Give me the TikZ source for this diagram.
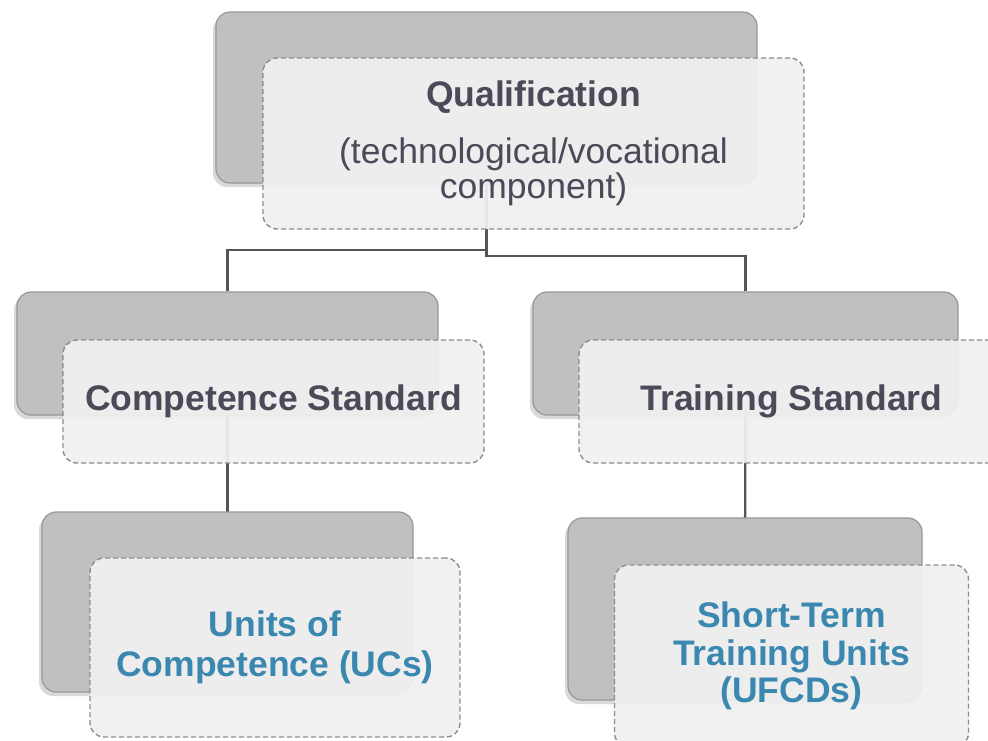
\documentclass[tikz,border=0pt]{standalone}
\usepackage{fontspec}
\setmainfont{Liberation Sans}
\usetikzlibrary{shadows,backgrounds}
\definecolor{boxgrey}{HTML}{C0C0C0}
\definecolor{boxedge}{HTML}{979797}
\definecolor{panel}{HTML}{F0F0F0}
\definecolor{dashgrey}{HTML}{8C8C8C}
\definecolor{inkdark}{HTML}{4A4A58}
\definecolor{inkblue}{HTML}{3A87AF}
\definecolor{wire}{HTML}{555555}

\begin{document}
\begin{tikzpicture}
    [x=0.5pt,y=-0.5pt,
      back/.style={rectangle, rounded corners=7pt, draw=boxedge, line width=0.6pt, fill=boxgrey,
          drop shadow={shadow xshift=-1.5pt, shadow yshift=-2pt, opacity=0.3}},
      front/.style={rectangle, rounded corners=7pt, draw=dashgrey, dash pattern=on 2.5pt off 1.5pt,
          line width=0.7pt, fill=panel, fill opacity=0.94, text opacity=1, text=inkdark, align=center,
          font=\fontsize{17.75}{20}\selectfont\bfseries},
      bluetext/.style={text=inkblue},
      wirestyle/.style={draw=wire, line width=1.2pt},
    ]
    \useasboundingbox (0,0) rectangle (988,740);
    \clip (0,0) rectangle (988,740);

    \node [back, minimum width=270.5pt, minimum height=85.5pt] (qualB) at (486.5,97.5) {};
    \node [front, minimum width=270.5pt, minimum height=85.5pt] (qualF) at (533.5,143.5)
      {Qualification\\[8.5pt]\mdseries(technological/vocational\\[-2.5pt]\mdseries component)};

    \node [back, minimum width=210.5pt, minimum height=61.5pt] (compB) at (227.5,353.5) {};
    \node [front, minimum width=210.5pt, minimum height=61.5pt] (compF) at (273.5,401.5) {Competence Standard};

    \node [back, minimum width=212.5pt, minimum height=61.5pt] (trainB) at (745.5,353.5) {};
    \node [front, minimum width=212.5pt, minimum height=61.5pt] (trainF) at (791.5,401.5) {Training Standard};

    \node [back, minimum width=185.5pt, minimum height=90pt] (ucB) at (227.5,602) {};
    \node [front, bluetext, minimum width=185pt, minimum height=89.5pt] (ucF) at (275,647.5)
      {Units of\\Competence (UCs)};

    \node [back, minimum width=177pt, minimum height=91pt] (ufcdB) at (745,609) {};
    \node [front, bluetext, minimum width=177pt, minimum height=91pt] (ufcdF) at (791.5,656)
      {Short-Term\\[-1.25pt]Training Units\\[-1.25pt](UFCDs)};

    \begin{scope}[on background layer]
      \draw [wirestyle] (qualB.center) -- (qualB.center |- 0,250) -| (compB.north);
      \draw [wirestyle] (qualB.center) -- (qualB.center |- 0,256) -| (trainB.north);
      \draw [wirestyle] (compB.center) -- (ucB.center);
      \draw [wirestyle] (trainB.center) -- (ufcdB.center);
    \end{scope}
  \end{tikzpicture}
\end{document}
